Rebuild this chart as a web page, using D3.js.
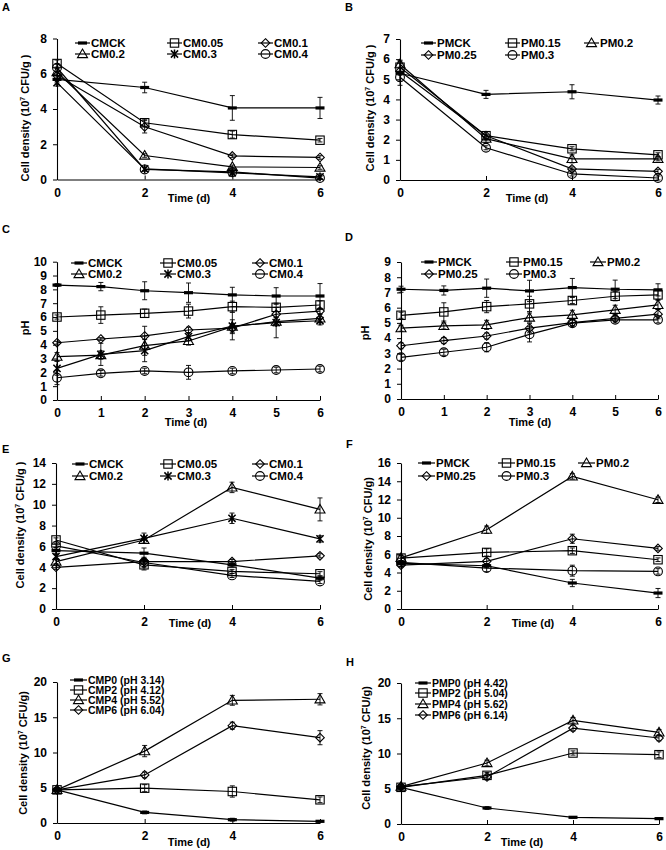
<!DOCTYPE html>
<html><head><meta charset="utf-8">
<script src="https://cdn.jsdelivr.net/npm/d3@7"></script>
<style>
body{margin:0;background:#fff}
svg{display:block}
text{font-family:'Liberation Sans',Arial,sans-serif;font-weight:bold;fill:#000}
</style>
</head><body>
<svg id="chart" width="666" height="850"></svg>
<script>
// ---------- DATA ----------
const days4 = [0, 2, 4, 6];
const days7 = [0, 1, 2, 3, 4, 5, 6];

const namesCM = ["CMCK", "CM0.05", "CM0.1", "CM0.2", "CM0.3", "CM0.4"];
const namesPM = ["PMCK", "PM0.15", "PM0.2", "PM0.25", "PM0.3"];
const namesCMP = ["CMP0 (pH 3.14)", "CMP2 (pH 4.12)", "CMP4 (pH 5.52)", "CMP6 (pH 6.04)"];
const namesPMP = ["PMP0 (pH 4.42)", "PMP2 (pH 5.04)", "PMP4 (pH 5.62)", "PMP6 (pH 6.14)"];

const markersCM = ["dash", "square", "diamond", "triangle", "star", "circle"];
const markersPM = ["dash", "square", "triangle", "diamond", "circle"];
const markersMP = ["dash", "square", "triangle", "diamond"];

// Panel A: cell density (10^7 CFU/g)
const valuesA = [
  [5.68, 5.22, 4.06, 4.06],
  [6.58, 3.22, 2.55, 2.23],
  [5.90, 2.99, 1.34, 1.25],
  [6.10, 1.36, 0.72, 0.68],
  [5.50, 0.60, 0.38, 0.15],
  [6.34, 0.57, 0.43, 0.08]
];
const errorsA = [
  [0.2, 0.3, 0.7, 0.6],
  [0.2, 0.2, 0.2, 0.1],
  [0.2, 0.35, 0.1, 0.1],
  [0.2, 0.1, 0.1, 0.1],
  [0.2, 0.1, 0.2, 0.1],
  [0.2, 0.1, 0.1, 0.1]
];
// Panel B
const valuesB = [
  [5.30, 4.25, 4.38, 3.97],
  [5.60, 2.20, 1.55, 1.25],
  [5.75, 2.05, 1.05, 1.05],
  [5.40, 2.20, 0.55, 0.43],
  [5.10, 1.60, 0.30, 0.10]
];
const errorsB = [
  [0.6, 0.2, 0.35, 0.2],
  [0.2, 0.2, 0.1, 0.1],
  [0.2, 0.2, 0.2, 0.1],
  [0.2, 0.2, 0.1, 0.1],
  [0.2, 0.1, 0.1, 0.1]
];
// Panel C: pH
const valuesC = [
  [8.31, 8.20, 7.90, 7.76, 7.60, 7.52, 7.52],
  [6.00, 6.14, 6.27, 6.43, 6.75, 6.70, 6.87],
  [4.14, 4.41, 4.63, 5.06, 5.20, 6.20, 6.43],
  [3.13, 3.25, 3.93, 4.27, 5.30, 5.66, 5.90],
  [2.29, 3.30, 3.57, 4.58, 5.35, 5.60, 5.73],
  [1.61, 1.93, 2.10, 2.00, 2.10, 2.17, 2.24]
];
const errorsC = [
  [0.1, 0.3, 0.65, 0.7, 0.55, 0.6, 0.9],
  [0.15, 0.6, 0.3, 0.5, 0.4, 0.3, 0.3],
  [0.1, 0.1, 0.7, 0.2, 0.3, 0.2, 0.2],
  [0.3, 0.3, 0.7, 0.3, 0.5, 0.3, 0.3],
  [0.5, 0.8, 0.8, 0.3, 1.0, 1.1, 0.3],
  [0.5, 0.2, 0.2, 0.5, 0.2, 0.2, 0.2]
];
// Panel D: pH
const valuesD = [
  [7.21, 7.13, 7.28, 7.10, 7.32, 7.21, 7.17],
  [5.50, 5.72, 6.07, 6.25, 6.47, 6.75, 6.84],
  [4.65, 4.80, 4.87, 5.35, 5.53, 5.86, 6.18],
  [3.50, 3.84, 4.14, 4.65, 5.02, 5.30, 5.57],
  [2.74, 3.07, 3.40, 4.25, 4.98, 5.20, 5.20]
];
const errorsD = [
  [0.2, 0.3, 0.6, 0.7, 0.6, 0.6, 0.4],
  [0.2, 0.6, 0.4, 0.5, 0.2, 0.3, 0.3],
  [0.2, 0.2, 0.3, 0.3, 0.3, 0.3, 0.3],
  [0.2, 0.2, 0.2, 0.3, 0.2, 0.2, 0.3],
  [0.2, 0.2, 0.3, 0.5, 0.2, 0.2, 0.2]
];
// Panel E
const valuesE = [
  [5.60, 5.35, 4.24, 2.96],
  [6.62, 4.24, 3.60, 3.38],
  [4.00, 4.55, 4.55, 5.10],
  [4.55, 6.62, 11.66, 9.55],
  [5.03, 6.78, 8.70, 6.72],
  [6.05, 4.46, 3.22, 2.64]
];
const errorsE = [
  [0.3, 0.5, 0.2, 0.2],
  [0.2, 0.5, 0.2, 0.2],
  [0.2, 0.2, 0.2, 0.2],
  [0.2, 0.3, 0.5, 1.1],
  [0.2, 0.5, 0.5, 0.3],
  [0.2, 0.5, 0.2, 0.2]
];
// Panel F
const valuesF = [
  [5.00, 4.74, 2.85, 1.75],
  [5.58, 6.20, 6.39, 5.40],
  [5.60, 8.69, 14.53, 11.97],
  [4.80, 5.22, 7.70, 6.64],
  [5.10, 4.49, 4.20, 4.12]
];
const errorsF = [
  [0.3, 0.2, 0.4, 0.5],
  [0.3, 0.4, 0.3, 0.2],
  [0.3, 0.4, 0.3, 0.3],
  [0.2, 0.3, 0.5, 0.2],
  [0.2, 0.4, 0.6, 0.3]
];
// Panel G
const valuesG = [
  [4.70, 1.50, 0.47, 0.24],
  [4.70, 4.94, 4.47, 3.29],
  [4.70, 10.20, 17.40, 17.55],
  [4.70, 6.82, 13.80, 12.10]
];
const errorsG = [
  [0.2, 0.2, 0.2, 0.1],
  [0.3, 0.5, 0.8, 0.4],
  [0.3, 0.8, 0.7, 0.8],
  [0.3, 0.4, 0.5, 1.0]
];
// Panel H
const valuesH = [
  [5.20, 2.27, 0.95, 0.76],
  [5.20, 6.90, 10.07, 9.83],
  [5.30, 8.65, 14.70, 13.00],
  [5.30, 6.67, 13.60, 12.20]
];
const errorsH = [
  [0.2, 0.2, 0.1, 0.1],
  [0.3, 0.4, 0.3, 0.4],
  [0.3, 0.4, 0.4, 0.4],
  [0.3, 0.4, 0.4, 0.4]
];

const yTicksA = [0, 2, 4, 6, 8];
const yTicksB = [0, 1, 2, 3, 4, 5, 6, 7];
const yTicksC = [0, 1, 2, 3, 4, 5, 6, 7, 8, 9, 10];
const yTicksD = [0, 1, 2, 3, 4, 5, 6, 7, 8, 9];
const yTicksE = [0, 2, 4, 6, 8, 10, 12, 14];
const yTicksF = [0, 2, 4, 6, 8, 10, 12, 14, 16];
const yTicksG = [0, 5, 10, 15, 20];
const yTicksH = [0, 5, 10, 15, 20];

const cellLabel = "Cell density (10|7| CFU/g )";
const cellLabel2 = "Cell density (10|7| CFU/g)";

// ---------- LAYOUT ----------
const panels = [
  {L:"A", lx:2, ly:11, x0:57, x1:320, yT:38.5, yB:179.5, ymax:8, yt:yTicksA, days:days4, names:namesCM, mk:markersCM, vals:valuesA, errs:errorsA,
   ylab:cellLabel, ylx:25, yly:118, tx:189, ty:202, legCols:[75,167,258], legRows:[43,54], legLen:15, legFont:11.5},
  {L:"B", lx:345, ly:11, x0:400, x1:658, yT:39, yB:180, ymax:7, yt:yTicksB, days:days4, names:namesPM, mk:markersPM, vals:valuesB, errs:errorsB,
   ylab:cellLabel, ylx:370, yly:108, tx:527, ty:202, legCols:[421,505,584], legRows:[43,55], legLen:15, legFont:11.5},
  {L:"C", lx:2, ly:233, x0:57, x1:320, yT:261.7, yB:400, ymax:10, yt:yTicksC, days:days7, names:namesCM, mk:markersCM, vals:valuesC, errs:errorsC,
   ylab:"pH", ylx:25, yly:328, tx:186, ty:426, legCols:[71,160,252], legRows:[263,274], legLen:16, legFont:11.5},
  {L:"D", lx:345, ly:241, x0:401, x1:658, yT:262, yB:399, ymax:9, yt:yTicksD, days:days7, names:namesPM, mk:markersPM, vals:valuesD, errs:errorsD,
   ylab:"pH", ylx:365, yly:333, tx:530, ty:426, legCols:[421,506,590], legRows:[262,274], legLen:16, legFont:11.5},
  {L:"E", lx:2, ly:453, x0:56, x1:320, yT:463, yB:609, ymax:14, yt:yTicksE, days:days4, names:namesCM, mk:markersCM, vals:valuesE, errs:errorsE,
   ylab:cellLabel, ylx:20, yly:525, tx:190, ty:627, legCols:[72,160,252], legRows:[464,476], legLen:16, legFont:11.5},
  {L:"F", lx:346, ly:448, x0:401, x1:658, yT:463, yB:609, ymax:16, yt:yTicksF, days:days4, names:namesPM, mk:markersPM, vals:valuesF, errs:errorsF,
   ylab:cellLabel2, ylx:368, yly:539, tx:533, ty:627, legCols:[418,498,578], legRows:[463,476], legLen:17, legFont:11.5},
  {L:"G", lx:2, ly:662, x0:57, x1:320, yT:682, yB:823, ymax:20, yt:yTicksG, days:days4, names:namesCMP, mk:markersMP, vals:valuesG, errs:errorsG,
   ylab:cellLabel2, ylx:23, yly:753, tx:189, ty:846, legCols:[70], legRows:[680,690,700,710], legLen:17, legFont:10.5},
  {L:"H", lx:346, ly:666, x0:401, x1:659, yT:683, yB:824, ymax:20, yt:yTicksH, days:days4, names:namesPMP, mk:markersMP, vals:valuesH, errs:errorsH,
   ylab:cellLabel2, ylx:366, yly:748, tx:522, ty:846, legCols:[415], legRows:[683,693,704,715], legLen:16, legFont:10.5}
];

const svg = d3.select("#chart");

function drawMarker(g, type, x, y) {
  switch (type) {
    case "dash":
      g.append("rect").attr("x", x - 4.5).attr("y", y - 1.6).attr("width", 9).attr("height", 3.2).attr("fill", "#000");
      break;
    case "square":
      g.append("rect").attr("x", x - 4.2).attr("y", y - 4.2).attr("width", 8.4).attr("height", 8.4)
        .attr("fill", "none").attr("stroke", "#000").attr("stroke-width", 1.1);
      break;
    case "circle":
      g.append("circle").attr("cx", x).attr("cy", y).attr("r", 4.4)
        .attr("fill", "none").attr("stroke", "#000").attr("stroke-width", 1.1);
      break;
    case "triangle":
      g.append("path").attr("d", `M${x},${y - 5}L${x + 5},${y + 3.6}L${x - 5},${y + 3.6}Z`)
        .attr("fill", "none").attr("stroke", "#000").attr("stroke-width", 1.1);
      break;
    case "diamond":
      g.append("path").attr("d", `M${x},${y - 4.3}L${x + 4.3},${y}L${x},${y + 4.3}L${x - 4.3},${y}Z`)
        .attr("fill", "none").attr("stroke", "#000").attr("stroke-width", 1.1);
      break;
    case "star": {
      const s = 3.6;
      const d = `M${x - s},${y - s}L${x + s},${y + s}M${x - s},${y + s}L${x + s},${y - s}M${x},${y - s - 0.8}L${x},${y + s + 0.8}`;
      g.append("path").attr("d", d).attr("fill", "none").attr("stroke", "#000").attr("stroke-width", 1.5);
      break;
    }
  }
}

function addYLabel(g, label, x, y) {
  const t = g.append("text").attr("transform", `translate(${x + 4},${y}) rotate(-90)`)
    .attr("text-anchor", "middle").attr("font-size", 11);
  const parts = label.split("|");
  if (parts.length === 1) { t.text(label); return; }
  t.append("tspan").text(parts[0]);
  t.append("tspan").text(parts[1]).attr("font-size", 7).attr("dy", -4);
  t.append("tspan").text(parts[2]).attr("dy", 4);
}

panels.forEach(p => {
  const g = svg.append("g");
  const x = d3.scaleLinear().domain([0, 6]).range([p.x0, p.x1]);
  const y = d3.scaleLinear().domain([0, p.ymax]).range([p.yB, p.yT]);

  // panel letter
  g.append("text").attr("x", p.lx).attr("y", p.ly).attr("font-size", 11).text(p.L);

  // y axis
  const ya = g.append("g").attr("transform", `translate(${p.x0},0)`)
    .call(d3.axisLeft(y).tickValues(p.yt).tickSize(4).tickSizeOuter(0).tickPadding(6).tickFormat(d3.format("d")));
  ya.select(".domain").attr("stroke", "#000").attr("stroke-width", 1.1);
  ya.selectAll(".tick line").attr("stroke", "#000");
  ya.selectAll(".tick text").attr("font-size", 12).attr("font-family", "'Liberation Sans',Arial,sans-serif").attr("font-weight", "bold");

  // x axis (ticks inward)
  const xa = g.append("g").attr("transform", `translate(0,${p.yB})`)
    .call(d3.axisBottom(x).tickValues(p.days).tickSize(-4).tickSizeOuter(0).tickPadding(0).tickFormat(d3.format("d")));
  xa.select(".domain").attr("stroke", "#000").attr("stroke-width", 1.1);
  xa.selectAll(".tick line").attr("stroke", "#000");
  xa.selectAll(".tick text").attr("font-size", 12).attr("font-family", "'Liberation Sans',Arial,sans-serif").attr("font-weight", "bold")
    .attr("y", 17).attr("dy", 0);

  // axis titles
  g.append("text").attr("x", p.tx).attr("y", p.ty).attr("text-anchor", "middle").attr("font-size", 11).text("Time (d)");
  addYLabel(g, p.ylab, p.ylx, p.yly);

  // series
  const line = d3.line().x((d, i) => x(p.days[i])).y(d => y(d));
  p.vals.forEach((vals, si) => {
    const sg = g.append("g");
    sg.append("path").datum(vals).attr("d", line).attr("fill", "none").attr("stroke", "#000").attr("stroke-width", 1.2);
    vals.forEach((v, i) => drawMarker(sg, p.mk[si], x(p.days[i]), y(v)));
    // error bars
    vals.forEach((v, i) => {
      const e = p.errs[si][i];
      const cx = x(p.days[i]);
      const y1 = y(v + e), y2 = y(Math.max(0, v - e));
      sg.append("path").attr("d", `M${cx},${y1}V${y2}M${cx - 2.5},${y1}H${cx + 2.5}M${cx - 2.5},${y2}H${cx + 2.5}`)
        .attr("fill", "none").attr("stroke", "#000").attr("stroke-width", 0.9);
    });
  });

  // legend
  const nCols = p.legCols.length;
  p.names.forEach((name, i) => {
    const col = i % nCols, row = Math.floor(i / nCols);
    const lx = p.legCols[col], ly = p.legRows[row];
    const lg = g.append("g");
    lg.append("line").attr("x1", lx).attr("x2", lx + p.legLen).attr("y1", ly).attr("y2", ly)
      .attr("stroke", "#000").attr("stroke-width", 1.2);
    drawMarker(lg, p.mk[i], lx + p.legLen / 2, ly);
    lg.append("text").attr("x", lx + p.legLen + 1).attr("y", ly + 4).attr("font-size", p.legFont).text(name);
  });
});
</script>
</body></html>
